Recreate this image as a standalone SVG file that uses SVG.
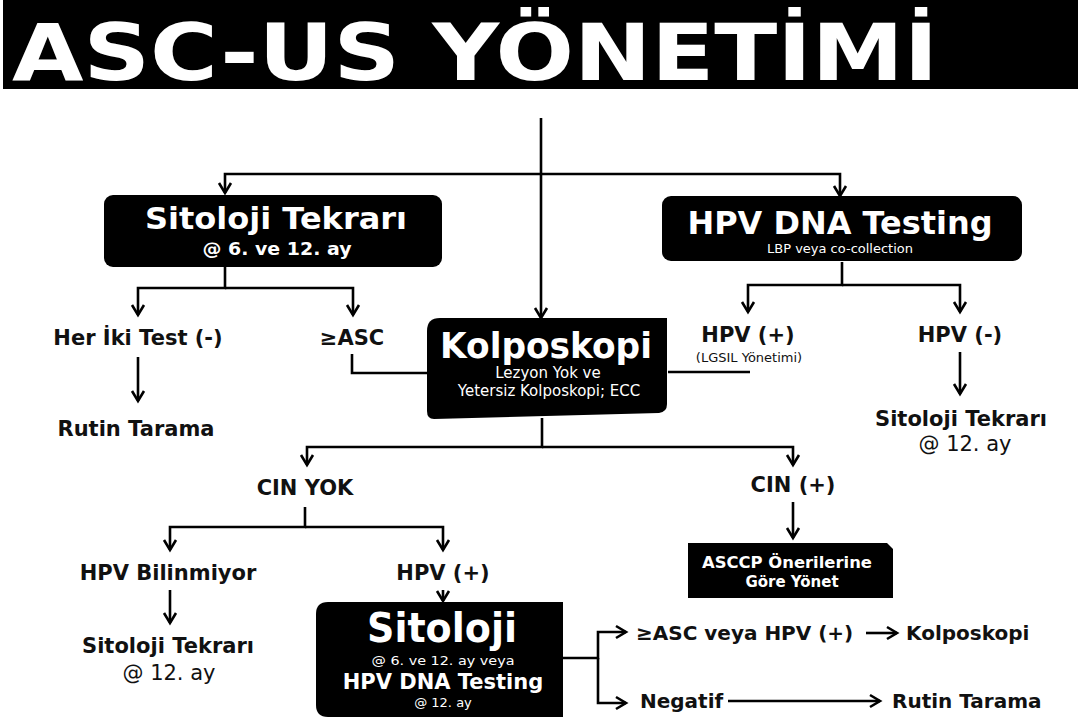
<svg xmlns="http://www.w3.org/2000/svg" width="1083" height="723" viewBox="0 0 1083 723">
<defs>
<marker id="arr" markerUnits="userSpaceOnUse" markerWidth="16" markerHeight="16" refX="11" refY="7" orient="auto" viewBox="0 0 16 14">
<path d="M1,1 L11,7 L1,13" fill="none" stroke="#000" stroke-width="2.6"/>
</marker>
</defs>
<style>
.ln{fill:none;stroke:#000;stroke-width:2.6}
.box{fill:#000}
.lbl{font-family:"DejaVu Sans",Verdana,sans-serif;font-weight:bold;font-size:21px;fill:#111;text-anchor:middle}
.lbs{font-family:"DejaVu Sans",Verdana,sans-serif;font-weight:bold;font-size:20px;fill:#111;text-anchor:start}
.sub{font-family:"DejaVu Sans",Verdana,sans-serif;font-size:21px;fill:#111;text-anchor:middle}
.wt{font-family:"DejaVu Sans",Verdana,sans-serif;font-weight:bold;fill:#fff;text-anchor:middle}
.wn{font-family:"DejaVu Sans",Verdana,sans-serif;fill:#fff;text-anchor:middle}
</style>
<rect x="0" y="0" width="1083" height="723" fill="#fff"/>
<g id="title">
<rect x="3" y="0" width="1075" height="89" fill="#000"/>
<text x="12" y="80" font-family="'DejaVu Sans Condensed','DejaVu Sans',sans-serif" font-stretch="condensed" font-weight="bold" font-size="78" fill="#fff" textLength="926" lengthAdjust="spacingAndGlyphs">ASC-US YÖNETİMİ</text>
</g>
<g id="connectors">
<path class="ln" d="M541,118 V318" marker-end="url(#arr)"/>
<path class="ln" d="M541,174 H225 V193" marker-end="url(#arr)"/>
<path class="ln" d="M541,174 H840 V196" marker-end="url(#arr)"/>
<path class="ln" d="M225,267 V288 H138 V315" marker-end="url(#arr)"/>
<path class="ln" d="M225,288 H353 V315" marker-end="url(#arr)"/>
<path class="ln" d="M138,357 V401" marker-end="url(#arr)"/>
<path class="ln" d="M352,354 V373 H427"/>
<path class="ln" d="M668,372 H750"/>
<path class="ln" d="M842,262 V285 H748 V312" marker-end="url(#arr)"/>
<path class="ln" d="M842,285 H960 V312" marker-end="url(#arr)"/>
<path class="ln" d="M960,352 V394" marker-end="url(#arr)"/>
<path class="ln" d="M542,418 V447 H307 V465" marker-end="url(#arr)"/>
<path class="ln" d="M542,447 H793 V465" marker-end="url(#arr)"/>
<path class="ln" d="M793,502 V538" marker-end="url(#arr)"/>
<path class="ln" d="M305,507 V527 H170 V550" marker-end="url(#arr)"/>
<path class="ln" d="M305,527 H443 V550" marker-end="url(#arr)"/>
<path class="ln" d="M170,590 V623" marker-end="url(#arr)"/>
<path class="ln" d="M443,590 V601" marker-end="url(#arr)"/>
<path class="ln" d="M563,658 H598 V632 H626" marker-end="url(#arr)"/>
<path class="ln" d="M598,658 V703 H626" marker-end="url(#arr)"/>
<path class="ln" d="M866,633 H897" marker-end="url(#arr)"/>
<path class="ln" d="M728,701 H880" marker-end="url(#arr)"/>
</g>
<g id="sitoloji-tekrari">
<rect class="box" x="104" y="195" width="338" height="72" rx="9"/>
<text class="wt" x="276" y="229" font-size="31" textLength="262" lengthAdjust="spacingAndGlyphs">Sitoloji Tekrarı</text>
<text class="wt" x="277" y="255" font-size="17" textLength="149" lengthAdjust="spacingAndGlyphs">@ 6. ve 12. ay</text>
</g>
<g id="hpv-dna-testing">
<rect class="box" x="662" y="196" width="360" height="65" rx="9"/>
<text class="wt" x="840" y="234" font-size="32" textLength="305" lengthAdjust="spacingAndGlyphs">HPV DNA Testing</text>
<text class="wn" x="840" y="253" font-size="12" textLength="146" lengthAdjust="spacingAndGlyphs">LBP veya co-collection</text>
</g>
<g id="kolposkopi">
<path class="box" d="M440,318 H667 V404 Q667,412 659,413 L434,419 Q427,419 427,411 V331 Q427,318 440,318 Z"/>
<text class="wt" x="546" y="358" font-size="35" textLength="212" lengthAdjust="spacingAndGlyphs">Kolposkopi</text>
<text class="wn" x="548" y="378" font-size="15">Lezyon Yok ve</text>
<text class="wn" x="549" y="396" font-size="15">Yetersiz Kolposkopi; ECC</text>
</g>
<g id="her-iki-test"><text class="lbl" x="138" y="345">Her İki Test (-)</text></g>
<g id="asc1"><text class="lbl" x="352" y="345">≥ASC</text></g>
<g id="rutin-tarama-1"><text class="lbl" x="136" y="436">Rutin Tarama</text></g>
<g id="hpv-pos-1">
<text class="lbl" x="748" y="342">HPV (+)</text>
<text x="749" y="362" font-family="'DejaVu Sans',sans-serif" font-size="13" fill="#111" text-anchor="middle">(LGSIL Yönetimi)</text>
</g>
<g id="hpv-neg"><text class="lbl" x="960" y="342">HPV (-)</text></g>
<g id="sitoloji-12-right">
<text class="lbl" x="961" y="426">Sitoloji Tekrarı</text>
<text class="sub" x="965" y="451">@ 12. ay</text>
</g>
<g id="cin-yok"><text class="lbl" x="305" y="495">CIN YOK</text></g>
<g id="cin-pos"><text class="lbl" x="793" y="492">CIN (+)</text></g>
<g id="asccp">
<path class="box" d="M688,543 H887 L893,549 V598 H688 Z"/>
<text class="wt" x="787" y="568" font-size="15" textLength="170" lengthAdjust="spacingAndGlyphs">ASCCP Önerilerine</text>
<text class="wt" x="792" y="587" font-size="15">Göre Yönet</text>
</g>
<g id="hpv-bilinmiyor"><text class="lbl" x="168" y="580">HPV Bilinmiyor</text></g>
<g id="hpv-pos-2"><text class="lbl" x="443" y="580">HPV (+)</text></g>
<g id="sitoloji-12-left">
<text class="lbl" x="168" y="653">Sitoloji Tekrarı</text>
<text class="sub" x="169" y="680">@ 12. ay</text>
</g>
<g id="sitoloji-box">
<path class="box" d="M328,602 H563 V717 H328 Q316,717 316,705 V614 Q316,602 328,602 Z"/>
<text class="wt" x="442" y="642" font-size="40" textLength="150" lengthAdjust="spacingAndGlyphs">Sitoloji</text>
<text class="wn" x="443" y="665" font-size="13" textLength="143" lengthAdjust="spacingAndGlyphs">@ 6. ve 12. ay veya</text>
<text class="wt" x="443" y="689" font-size="21">HPV DNA Testing</text>
<text class="wn" x="443" y="707" font-size="13">@ 12. ay</text>
</g>
<g id="asc-hpv"><text class="lbs" x="636" y="640">≥ASC veya HPV (+)</text></g>
<g id="kolposkopi-2"><text class="lbs" x="906" y="640">Kolposkopi</text></g>
<g id="negatif"><text class="lbs" x="640" y="708">Negatif</text></g>
<g id="rutin-tarama-2"><text class="lbs" x="892" y="708">Rutin Tarama</text></g>
</svg>
